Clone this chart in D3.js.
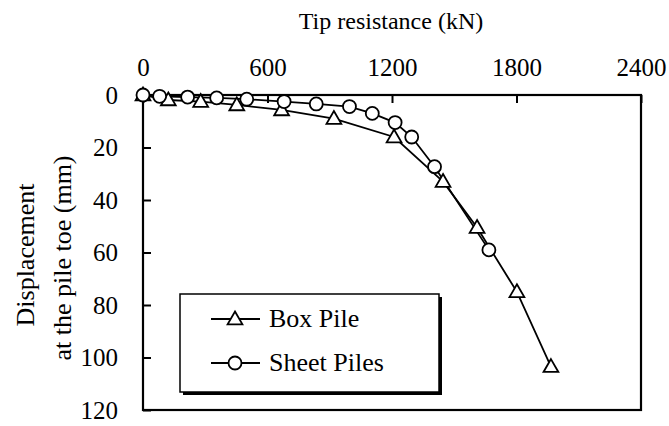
<!DOCTYPE html>
<html>
  <head>
    <meta charset="utf-8">
    <title>tip resistance</title>
    <script src="https://d3js.org/d3.v7.min.js"></script>
    <style>
      body { margin: 0; background: #fff; }
      text { font-family: "Liberation Serif", "Times New Roman", serif; fill: #000; }
    </style>
  </head>
  <body>
    <script>

      //Width and height
      var w = 669;
      var h = 426;

      //Data (tip resistance kN, displacement mm)
      var boxLoad  = [0, 122, 278, 452, 668, 920, 1210, 1446, 1610, 1802, 1966];
      var boxDisp  = [0, 1.9, 2.5, 3.8, 5.7, 9.0, 16, 33, 50.5, 75, 103.5];
      var sheetLoad = [0, 80, 215, 355, 500, 680, 835, 995, 1105, 1215, 1295, 1405, 1667];
      var sheetDisp = [0, 0.5, 0.8, 1.1, 1.6, 2.5, 3.4, 4.4, 7, 10.5, 16, 27.3, 59];

      var xTicks = [0, 600, 1200, 1800, 2400];
      var yTicks = [0, 20, 40, 60, 80, 100, 120];

      var seriesNames = ["Box Pile", "Sheet Piles"];

      var boxData = boxLoad.map(function(d, i) { return [d, boxDisp[i]]; });
      var sheetData = sheetLoad.map(function(d, i) { return [d, sheetDisp[i]]; });

      //Scales
      var x = d3.scaleLinear().domain([0, 2400]).range([143, 641]);
      var y = d3.scaleLinear().domain([0, 120]).range([95, 410]);

      var svg = d3.select("body")
                  .append("svg")
                  .attr("width", w)
                  .attr("height", h);

      //Axes
      var xAxis = svg.append("g")
         .attr("transform", "translate(0," + y(0) + ")")
         .call(d3.axisTop(x).tickValues(xTicks).tickFormat(d3.format("d")).tickSize(-8).tickPadding(19));

      var yAxis = svg.append("g")
         .attr("transform", "translate(" + x(0) + ",0)")
         .call(d3.axisLeft(y).tickValues(yTicks).tickFormat(d3.format("d")).tickSize(-8).tickPadding(25));

      [xAxis, yAxis].forEach(function(a) {
        a.select(".domain").remove();
        a.selectAll("line").attr("stroke", "#000").attr("stroke-width", 2);
        a.selectAll("text")
         .attr("font-family", "Liberation Serif, serif")
         .attr("font-size", "25px")
         .attr("fill", "#000");
      });

      //Frame
      svg.append("rect")
         .attr("x", x(0))
         .attr("y", y(0))
         .attr("width", x(2400) - x(0))
         .attr("height", y(120) - y(0))
         .attr("fill", "none")
         .attr("stroke", "#000")
         .attr("stroke-width", 2.2);

      //Titles
      svg.append("text")
         .attr("x", 391)
         .attr("y", 29)
         .attr("text-anchor", "middle")
         .attr("font-size", "24px")
         .text("Tip resistance (kN)");

      svg.append("text")
         .attr("transform", "translate(34,255) rotate(-90)")
         .attr("text-anchor", "middle")
         .attr("font-size", "26px")
         .text("Displacement");

      svg.append("text")
         .attr("transform", "translate(71,258) rotate(-90)")
         .attr("text-anchor", "middle")
         .attr("font-size", "26px")
         .text("at the pile toe (mm)");

      //Lines
      var line = d3.line()
                   .x(function(d) { return x(d[0]); })
                   .y(function(d) { return y(d[1]); });

      [boxData, sheetData].forEach(function(data) {
        svg.append("path")
           .datum(data)
           .attr("d", line)
           .attr("fill", "none")
           .attr("stroke", "#000")
           .attr("stroke-width", 1.8);
      });

      var tri = d3.symbol().type(d3.symbolTriangle).size(95);

      //Triangles
      svg.selectAll(".tri")
         .data(boxData)
         .enter()
         .append("path")
         .attr("class", "tri")
         .attr("d", tri)
         .attr("transform", function(d) { return "translate(" + x(d[0]) + "," + (y(d[1]) + 1) + ")"; })
         .attr("fill", "#fff")
         .attr("stroke", "#000")
         .attr("stroke-width", 1.8);

      //Circles
      svg.selectAll(".circ")
         .data(sheetData)
         .enter()
         .append("circle")
         .attr("class", "circ")
         .attr("cx", function(d) { return x(d[0]); })
         .attr("cy", function(d) { return y(d[1]); })
         .attr("r", 6.5)
         .attr("fill", "#fff")
         .attr("stroke", "#000")
         .attr("stroke-width", 1.8);

      //Legend with shadow
      var lg = svg.append("g");
      lg.append("rect")
        .attr("x", 183).attr("y", 297)
        .attr("width", 259).attr("height", 98)
        .attr("fill", "#000");
      lg.append("rect")
        .attr("x", 180).attr("y", 294)
        .attr("width", 259).attr("height", 98)
        .attr("fill", "#fff")
        .attr("stroke", "#000")
        .attr("stroke-width", 1.5);

      var items = lg.selectAll(".item")
        .data(seriesNames)
        .enter()
        .append("g")
        .attr("transform", function(d, i) { return "translate(0," + (319 + i * 44) + ")"; });

      items.append("line")
        .attr("x1", 211).attr("x2", 260)
        .attr("stroke", "#000").attr("stroke-width", 1.8);

      items.filter(function(d, i) { return i === 0; })
        .append("path")
        .attr("d", tri)
        .attr("transform", "translate(235,1)")
        .attr("fill", "#fff").attr("stroke", "#000").attr("stroke-width", 1.8);

      items.filter(function(d, i) { return i === 1; })
        .append("circle")
        .attr("cx", 235).attr("r", 6.5)
        .attr("fill", "#fff").attr("stroke", "#000").attr("stroke-width", 1.8);

      items.append("text")
        .attr("x", 269)
        .attr("y", 8)
        .attr("font-size", "26px")
        .text(function(d) { return d; });

    </script>
  </body>
</html>
